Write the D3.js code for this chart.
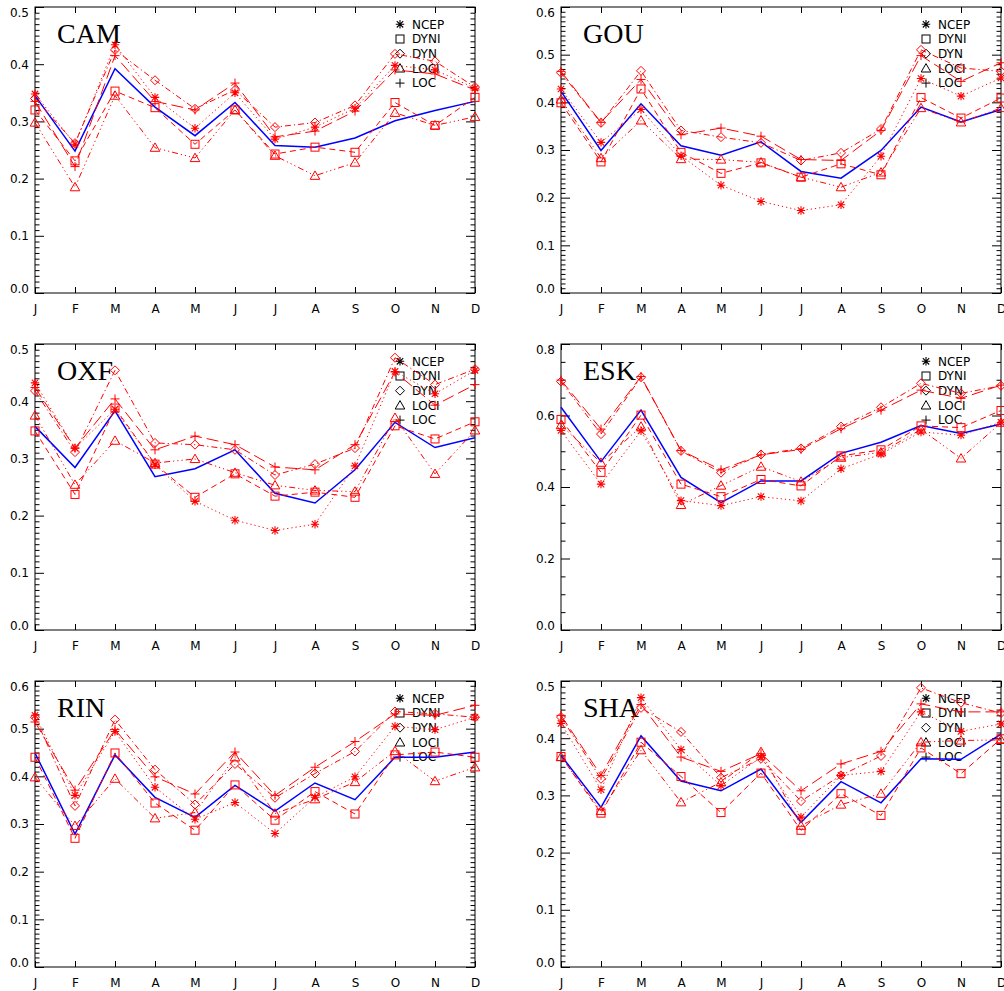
<!DOCTYPE html>
<html>
<head>
<meta charset="utf-8">
<script src="https://cdn.jsdelivr.net/npm/d3@7"></script>
<style>
  body { margin: 0; background: #fff; }
  svg { display: block; }
  .tick text { font-family: "DejaVu Sans", "Liberation Sans", sans-serif; font-size: 12px; fill: #000; }
</style>
</head>
<body>
<div id="chart"></div>
<script>
// month labels and stations
const months = ['J', 'F', 'M', 'A', 'M', 'J', 'J', 'A', 'S', 'O', 'N', 'D'];
const stations = ['CAM', 'GOU', 'OXF', 'ESK', 'RIN', 'SHA'];
const yMax = [0.5, 0.6, 0.5, 0.8, 0.6, 0.5];
const seriesNames = ['NCEP', 'DYNI', 'DYN', 'LOCI', 'LOC'];

// observed (blue) values, one row per station
const observed = [
  [0.345, 0.248, 0.392, 0.325, 0.275, 0.333, 0.258, 0.255, 0.271, 0.301, 0.319, 0.335],
  [0.423, 0.299, 0.397, 0.309, 0.289, 0.317, 0.255, 0.241, 0.299, 0.390, 0.359, 0.385],
  [0.356, 0.284, 0.383, 0.268, 0.282, 0.315, 0.239, 0.222, 0.280, 0.363, 0.319, 0.336],
  [0.623, 0.471, 0.615, 0.427, 0.356, 0.417, 0.417, 0.494, 0.525, 0.572, 0.550, 0.576],
  [0.449, 0.279, 0.445, 0.356, 0.314, 0.381, 0.327, 0.386, 0.351, 0.440, 0.440, 0.451],
  [0.370, 0.279, 0.404, 0.325, 0.308, 0.346, 0.253, 0.324, 0.287, 0.364, 0.363, 0.407]
];

const ncep = [
  [0.348, 0.260, 0.434, 0.342, 0.288, 0.350, 0.269, 0.290, 0.323, 0.398, 0.390, 0.358],
  [0.428, 0.316, 0.385, 0.288, 0.226, 0.192, 0.173, 0.185, 0.287, 0.450, 0.413, 0.451],
  [0.432, 0.318, 0.386, 0.289, 0.225, 0.192, 0.174, 0.185, 0.287, 0.452, 0.413, 0.454],
  [0.558, 0.408, 0.557, 0.362, 0.348, 0.373, 0.361, 0.451, 0.492, 0.554, 0.545, 0.581],
  [0.528, 0.360, 0.494, 0.377, 0.310, 0.345, 0.280, 0.356, 0.399, 0.505, 0.498, 0.524],
  [0.426, 0.310, 0.471, 0.380, 0.317, 0.367, 0.262, 0.335, 0.342, 0.446, 0.412, 0.425]
];

const dyni = [
  [0.320, 0.231, 0.353, 0.324, 0.260, 0.320, 0.243, 0.255, 0.246, 0.333, 0.293, 0.342],
  [0.399, 0.275, 0.428, 0.295, 0.251, 0.273, 0.243, 0.271, 0.248, 0.410, 0.367, 0.409],
  [0.348, 0.237, 0.388, 0.290, 0.232, 0.273, 0.234, 0.241, 0.232, 0.357, 0.334, 0.364],
  [0.589, 0.441, 0.601, 0.408, 0.373, 0.421, 0.403, 0.487, 0.504, 0.571, 0.566, 0.614],
  [0.440, 0.270, 0.449, 0.344, 0.287, 0.382, 0.308, 0.368, 0.321, 0.445, 0.451, 0.440],
  [0.368, 0.269, 0.393, 0.333, 0.270, 0.339, 0.239, 0.303, 0.265, 0.383, 0.338, 0.399]
];

const dyn = [
  [0.340, 0.262, 0.425, 0.372, 0.322, 0.355, 0.290, 0.298, 0.328, 0.418, 0.405, 0.360],
  [0.462, 0.357, 0.466, 0.341, 0.327, 0.315, 0.278, 0.294, 0.344, 0.510, 0.472, 0.465],
  [0.418, 0.311, 0.454, 0.327, 0.324, 0.315, 0.271, 0.290, 0.318, 0.476, 0.429, 0.456],
  [0.695, 0.548, 0.707, 0.501, 0.440, 0.491, 0.508, 0.569, 0.623, 0.690, 0.662, 0.683],
  [0.524, 0.338, 0.519, 0.414, 0.341, 0.426, 0.355, 0.406, 0.452, 0.536, 0.531, 0.524],
  [0.437, 0.329, 0.453, 0.411, 0.331, 0.364, 0.290, 0.335, 0.369, 0.488, 0.462, 0.444]
];

const loci = [
  [0.298, 0.185, 0.345, 0.254, 0.236, 0.320, 0.240, 0.205, 0.228, 0.315, 0.293, 0.308],
  [0.406, 0.283, 0.362, 0.281, 0.280, 0.274, 0.243, 0.222, 0.253, 0.388, 0.358, 0.388],
  [0.375, 0.254, 0.331, 0.292, 0.299, 0.275, 0.253, 0.244, 0.242, 0.371, 0.273, 0.349],
  [0.573, 0.468, 0.569, 0.350, 0.404, 0.457, 0.415, 0.482, 0.497, 0.561, 0.480, 0.580],
  [0.398, 0.296, 0.395, 0.312, 0.324, 0.440, 0.322, 0.352, 0.388, 0.453, 0.390, 0.419],
  [0.367, 0.273, 0.379, 0.288, 0.323, 0.376, 0.247, 0.284, 0.303, 0.393, 0.396, 0.397]
];

const loc = [
  [0.335, 0.221, 0.415, 0.335, 0.320, 0.367, 0.273, 0.283, 0.318, 0.390, 0.383, 0.355],
  [0.465, 0.358, 0.448, 0.332, 0.346, 0.329, 0.280, 0.278, 0.341, 0.498, 0.444, 0.483],
  [0.424, 0.318, 0.404, 0.315, 0.339, 0.324, 0.285, 0.280, 0.324, 0.451, 0.393, 0.429],
  [0.699, 0.562, 0.709, 0.502, 0.448, 0.490, 0.505, 0.563, 0.615, 0.671, 0.648, 0.685],
  [0.514, 0.371, 0.498, 0.399, 0.363, 0.451, 0.360, 0.419, 0.473, 0.531, 0.528, 0.549],
  [0.440, 0.335, 0.459, 0.367, 0.342, 0.373, 0.308, 0.355, 0.377, 0.460, 0.446, 0.446]
];

const seriesValues = [ncep, dyni, dyn, loci, loc];
// marker + dash per series (IDL linestyles 1..5)
const markers = ['asterisk', 'square', 'diamond', 'triangle', 'plus'];
const dashes = ['1.2,3', '6,4', '6,3,1.2,3', '6,3,1.2,3,1.2,3,1.2,3', '12,5'];

const width = 1004, height = 991;
const colLefts = [35, 561];
const rowTops = [7, 344, 681];
const panelW = 440, panelH = 286;
const sansFont = '"DejaVu Sans", "Liberation Sans", sans-serif';

const svg = d3.select('#chart').append('svg')
  .attr('width', width).attr('height', height);

function drawMarker(g, type, cx, cy, color) {
  const s = 4;
  if (type === 'square') {
    g.append('rect').attr('x', cx - s).attr('y', cy - s).attr('width', 2 * s).attr('height', 2 * s)
      .attr('fill', 'none').attr('stroke', color).attr('stroke-width', 1);
  } else if (type === 'diamond') {
    const d = 4.5;
    g.append('path').attr('d', `M${cx},${cy - d}L${cx + d},${cy}L${cx},${cy + d}L${cx - d},${cy}Z`)
      .attr('fill', 'none').attr('stroke', color).attr('stroke-width', 1);
  } else if (type === 'triangle') {
    const d = 4.8;
    g.append('path').attr('d', `M${cx},${cy - d}L${cx + d},${cy + d * 0.75}L${cx - d},${cy + d * 0.75}Z`)
      .attr('fill', 'none').attr('stroke', color).attr('stroke-width', 1);
  } else if (type === 'plus') {
    const d = 4.5;
    g.append('path').attr('d', `M${cx - d},${cy}H${cx + d}M${cx},${cy - d}V${cy + d}`)
      .attr('fill', 'none').attr('stroke', color).attr('stroke-width', 1);
  } else if (type === 'asterisk') {
    const d = 4.2, e = 3.2;
    g.append('path').attr('d', `M${cx - d},${cy}H${cx + d}M${cx},${cy - d}V${cy + d}` +
      `M${cx - e},${cy - e}L${cx + e},${cy + e}M${cx - e},${cy + e}L${cx + e},${cy - e}`)
      .attr('fill', 'none').attr('stroke', color).attr('stroke-width', 1.1);
  }
}

stations.forEach((name, p) => {
  const left = colLefts[p % 2];
  const top = rowTops[Math.floor(p / 2)];
  const g = svg.append('g').attr('transform', `translate(${left},${top})`);

  const x = d3.scaleLinear().domain([0, 11]).range([0, panelW]);
  const y = d3.scaleLinear().domain([0, yMax[p]]).range([panelH, 0]);

  const majorStep = yMax[p] > 0.7 ? 0.2 : 0.1;
  const minorStep = yMax[p] > 0.7 ? 0.05 : 0.01;
  const major = d3.range(0, Math.round(yMax[p] / majorStep) + 1).map(i => +(i * majorStep).toFixed(3));
  const minor = d3.range(0, Math.round(yMax[p] / minorStep) + 1).map(i => +(i * minorStep).toFixed(3))
    .filter(v => !major.some(m => Math.abs(m - v) < 1e-6));

  // frame
  g.append('rect').attr('width', panelW).attr('height', panelH)
    .attr('fill', 'none').attr('stroke', '#000').attr('stroke-width', 1);

  // y axes
  const nMaj = major.length;
  const yl = g.append('g').call(d3.axisLeft(y).tickValues(major).tickFormat(d3.format('.1f'))
    .tickSize(-9).tickSizeOuter(0).tickPadding(6));
  yl.selectAll('.tick text').attr('dy', (d, i) => i === 0 ? '-0.05em' : (i === nMaj - 1 ? '0.75em' : '0.32em'));
  g.append('g').call(d3.axisLeft(y).tickValues(minor).tickFormat('').tickSize(-4.5).tickSizeOuter(0));
  g.append('g').attr('transform', `translate(${panelW},0)`)
    .call(d3.axisRight(y).tickValues(major).tickFormat('').tickSize(-9).tickSizeOuter(0));
  g.append('g').attr('transform', `translate(${panelW},0)`)
    .call(d3.axisRight(y).tickValues(minor).tickFormat('').tickSize(-4.5).tickSizeOuter(0));

  // x axes
  g.append('g').attr('transform', `translate(0,${panelH})`)
    .call(d3.axisBottom(x).tickValues(d3.range(12)).tickFormat(i => months[i])
      .tickSize(-6).tickSizeOuter(0).tickPadding(11));
  g.append('g').call(d3.axisTop(x).tickValues(d3.range(12)).tickFormat('').tickSize(-6).tickSizeOuter(0));

  g.selectAll('.domain').remove();
  g.selectAll('.tick line').attr('stroke', '#000');

  // station title
  g.append('text').attr('x', 22).attr('y', 36)
    .attr('font-family', '"Liberation Serif", "Times New Roman", serif')
    .attr('font-size', 28).attr('fill', '#000').text(name);

  // legend
  seriesNames.forEach((s, i) => {
    const ly = 17.3 + i * 14.7;
    const lg = g.append('g');
    drawMarker(lg, markers[i], 365, ly, '#000');
    lg.append('text').attr('x', 377).attr('y', ly).attr('dy', '0.36em')
      .attr('font-family', sansFont).attr('font-size', 12)
      .attr('fill', '#000').text(s);
  });

  const line = d3.line().x((d, i) => x(i)).y(d => y(d));

  // observed
  g.append('path').datum(observed[p]).attr('d', line)
    .attr('fill', 'none').attr('stroke', '#0000ff').attr('stroke-width', 1.5);

  // model series
  seriesValues.forEach((vals, k) => {
    const sg = g.append('g');
    sg.append('path').datum(vals[p]).attr('d', line)
      .attr('fill', 'none').attr('stroke', '#ff0000').attr('stroke-width', 1)
      .attr('stroke-dasharray', dashes[k]);
    vals[p].forEach((v, i) => drawMarker(sg, markers[k], x(i), y(v), '#ff0000'));
  });
});
</script>
</body>
</html>
